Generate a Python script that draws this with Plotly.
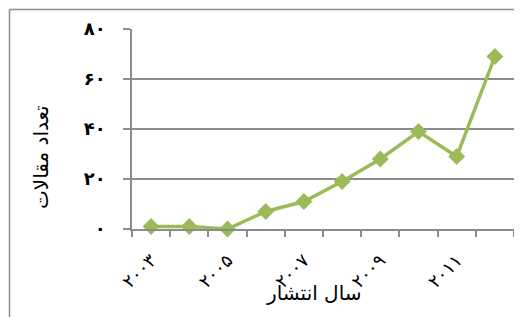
import plotly.graph_objects as go

years = [2003, 2004, 2005, 2006, 2007, 2008, 2009, 2010, 2011, 2012]
counts = [1, 1, 0, 7, 11, 19, 28, 39, 29, 69]
x_tick_vals = [2003, 2005, 2007, 2009, 2011]
x_tick_text = ["۲۰۰۳", "۲۰۰۵", "۲۰۰۷", "۲۰۰۹", "۲۰۱۱"]
y_tick_vals = [0, 20, 40, 60, 80]
y_tick_text = ["۰", "۲۰", "۴۰", "۶۰", "۸۰"]
x_title = "سال انتشار"
y_title = "تعداد مقالات"

FONT = "DejaVu Sans, Times New Roman, serif"
GREEN = "#9BBB59"
GREY = "#8C8C8C"

# page has an 8px body margin, so the figure is offset by 8px
OFF = 8
W, H = 522 - OFF, 317 - OFF
L, R, T, B = 132 - OFF, 8, 29 - OFF, 317 - 229
pw, ph = W - L - R, H - T - B

def px_x(p):
    return (p - OFF - L) / pw

def px_y(p):
    return (H - B - (p - OFF)) / ph

fig = go.Figure()
fig.add_trace(go.Scatter(
    x=years, y=counts, mode="lines+markers",
    line=dict(color=GREEN, width=3.5),
    marker=dict(symbol="diamond", size=13, color=GREEN, line=dict(width=0)),
    showlegend=False, cliponaxis=False,
))

fig.update_layout(
    width=W, height=H,
    margin=dict(l=L, r=R, t=T, b=B),
    paper_bgcolor="white", plot_bgcolor="white",
    font=dict(family=FONT, color="black"),
    xaxis=dict(
        range=[2002.5, 2012.5], tickmode="array", automargin=False,
        tickvals=x_tick_vals, ticktext=x_tick_text,
        tickangle=-45, ticks="", showgrid=False, zeroline=False,
        showline=True, linecolor=GREY, linewidth=1.5,
        tickfont=dict(size=18, family=FONT), ticklabelstandoff=12,
        minor=dict(tick0=2002.5, dtick=1, ticks="outside", ticklen=6,
                   tickcolor=GREY, tickwidth=1.5, showgrid=False),
    ),
    yaxis=dict(
        range=[0, 80], tickmode="array", automargin=False,
        tickvals=y_tick_vals, ticktext=y_tick_text,
        ticks="outside", ticklen=7, tickcolor=GREY, tickwidth=1.5,
        showgrid=True, gridcolor=GREY, gridwidth=1.5, zeroline=False,
        showline=True, linecolor=GREY, linewidth=1.5,
        tickfont=dict(size=18, family=FONT, weight="bold"), ticklabelstandoff=14,
    ),
    annotations=[
        dict(text=x_title, xref="paper", yref="paper",
             x=px_x(314), y=px_y(293), showarrow=False,
             font=dict(size=20, family=FONT), xanchor="center", yanchor="middle"),
        dict(text=y_title, xref="paper", yref="paper",
             x=px_x(41), y=px_y(157), showarrow=False, textangle=-90,
             font=dict(size=20, family=FONT), xanchor="center", yanchor="middle"),
    ],
    shapes=[
        dict(type="line", xref="paper", yref="paper",
             x0=px_x(9.5), x1=px_x(9.5), y0=px_y(9.5), y1=px_y(340),
             line=dict(color=GREY, width=1.5)),
        dict(type="line", xref="paper", yref="paper",
             x0=px_x(9.5), x1=px_x(540), y0=px_y(9.5), y1=px_y(9.5),
             line=dict(color=GREY, width=1.5)),
    ],
)

fig.write_html("out.html")
